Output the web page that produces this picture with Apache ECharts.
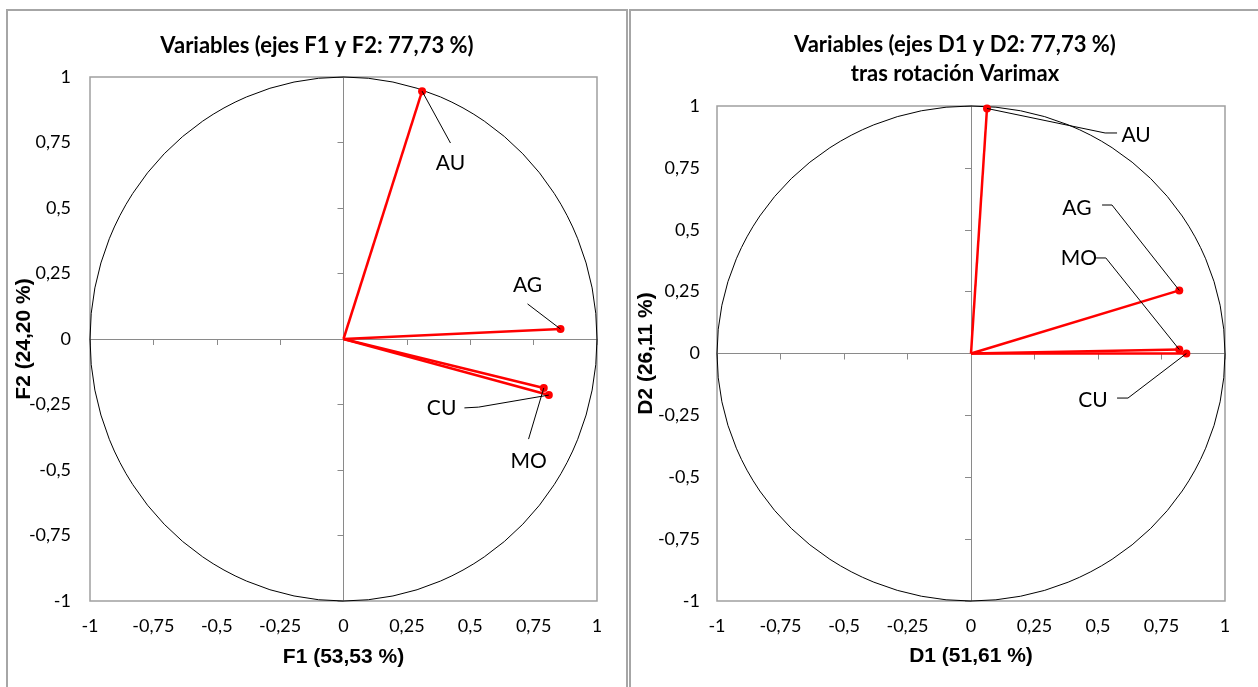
<!DOCTYPE html>
<html>
<head>
<meta charset="utf-8">
<script src="https://cdn.jsdelivr.net/npm/echarts@6/dist/echarts.min.js"></script>
<style>html,body{margin:0;padding:0;background:#fff}#c{width:1258px;height:687px}</style>
</head>
<body>
<div id="c"></div>
<script>
// ---- data ----
const variables = ['AU', 'AG', 'CU', 'MO'];
const f1 = [0.31, 0.856, 0.81, 0.79];
const f2 = [0.946, 0.038, -0.214, -0.187];
const d1 = [0.063, 0.82, 0.848, 0.82];
const d2 = [0.99, 0.255, 0.0, 0.016];
const tickValues = [-1, -0.75, -0.5, -0.25, 0, 0.25, 0.5, 0.75, 1];
const titleLeft = 'Variables (ejes F1 y F2: 77,73 %)';
const titleRight = ['Variables (ejes D1 y D2: 77,73 %)', 'tras rotación Varimax'];
const axisNamesLeft = ['F1 (53,53 %)', 'F2 (24,20 %)'];
const axisNamesRight = ['D1 (51,61 %)', 'D2 (26,11 %)'];

// ---- label layout (data coordinates of label centre and leader bends) ----
const labelLayoutLeft = {
  AU: {text: [0.422, 0.672], leader: [[0.422, 0.748]]},
  AG: {text: [0.726, 0.206], leader: [[0.726, 0.134]]},
  CU: {text: [0.387, -0.263], leader: [[0.477, -0.263], [0.533, -0.26]]},
  MO: {text: [0.730, -0.466], leader: [[0.730, -0.382]]}
};
const labelLayoutRight = {
  AU: {text: [0.65, 0.883], leader: [[0.575, 0.891], [0.528, 0.891]]},
  AG: {text: [0.417, 0.588], leader: [[0.516, 0.600], [0.555, 0.600]]},
  MO: {text: [0.425, 0.386], leader: [[0.492, 0.386], [0.531, 0.386]]},
  CU: {text: [0.480, -0.188], leader: [[0.575, -0.180], [0.618, -0.180]]}
};

const FONT = 'Lato, "Open Sans", sans-serif';
const ARIAL = '"Liberation Sans", Arial, sans-serif';
const fmt = v => String(v).replace('.', ',');

function labelX(gridIndex, gap, name) {
  return {
    gridIndex, type: 'value', min: -1, max: 1, interval: 0.25, position: 'bottom',
    axisLine: {show: false, onZero: false}, axisTick: {show: false}, splitLine: {show: false},
    axisLabel: {formatter: fmt, color: '#000', fontSize: 18, fontFamily: FONT, margin: 16},
    name, nameLocation: 'middle', nameGap: gap,
    nameTextStyle: {fontSize: 21, fontWeight: 'bold', fontFamily: ARIAL, color: '#000'}
  };
}
function zeroX(gridIndex) {
  return {
    gridIndex, type: 'value', min: -1, max: 1, interval: 0.25, position: 'bottom',
    axisLine: {show: true, onZero: true, lineStyle: {color: '#8a8a8a', width: 1}},
    axisTick: {show: true, inside: false, length: 6, lineStyle: {color: '#8a8a8a'}},
    axisLabel: {show: false}, splitLine: {show: false}
  };
}
function labelY(gridIndex, gap, margin, name) {
  return {
    gridIndex, type: 'value', min: -1, max: 1, interval: 0.25, position: 'left',
    axisLine: {show: false, onZero: false}, axisTick: {show: false}, splitLine: {show: false},
    axisLabel: {formatter: fmt, color: '#000', fontSize: 18, fontFamily: FONT, margin},
    name, nameLocation: 'middle', nameGap: gap, nameMoveOverlap: false,
    nameTextStyle: {fontSize: 21, fontWeight: 'bold', fontFamily: ARIAL, color: '#000'}
  };
}
function zeroY(gridIndex) {
  return {
    gridIndex, type: 'value', min: -1, max: 1, interval: 0.25, position: 'left',
    axisLine: {show: true, onZero: true, lineStyle: {color: '#8a8a8a', width: 1}},
    axisTick: {show: true, inside: false, length: 6, lineStyle: {color: '#8a8a8a'}},
    axisLabel: {show: false}, splitLine: {show: false}
  };
}

function circleSeries(xi, yi) {
  return {
    type: 'custom', xAxisIndex: xi, yAxisIndex: yi, data: [[0, 0, 1]], silent: true, z: 2,
    renderItem: (params, api) => {
      const r = api.value(2);
      const c = api.coord([api.value(0), api.value(1)]);
      const e = api.coord([r, r]);
      const rx = e[0] - c[0], ry = c[1] - e[1];
      const d = `M ${c[0] - rx} ${c[1]} A ${rx} ${ry} 0 1 0 ${c[0] + rx} ${c[1]} A ${rx} ${ry} 0 1 0 ${c[0] - rx} ${c[1]} Z`;
      return {type: 'path', shape: {pathData: d}, style: {fill: 'none', stroke: '#000', lineWidth: 1}};
    }
  };
}

function vectorSeries(xi, yi, xs, ys) {
  return {
    type: 'custom', xAxisIndex: xi, yAxisIndex: yi, z: 4,
    data: variables.map((n, i) => [xs[i], ys[i], n]),
    renderItem: (params, api) => {
      const o = api.coord([0, 0]);
      const p = api.coord([api.value(0), api.value(1)]);
      return {type: 'group', children: [
        {type: 'line', shape: {x1: o[0], y1: o[1], x2: p[0], y2: p[1]}, style: {stroke: '#ff0000', lineWidth: 2.5}},
        {type: 'circle', shape: {cx: p[0], cy: p[1], r: 4}, style: {fill: '#ff0000'}}
      ]};
    }
  };
}

function labelSeries(xi, yi, xs, ys, layout) {
  return {
    type: 'custom', xAxisIndex: xi, yAxisIndex: yi, z: 5,
    data: variables.map((n, i) => [xs[i], ys[i], n]),
    renderItem: (params, api) => {
      const name = variables[params.dataIndex];
      const L = layout[name];
      const p = api.coord([api.value(0), api.value(1)]);
      const pts = L.leader.map(q => api.coord(q));
      pts.push(p);
      const t = api.coord(L.text);
      return {type: 'group', children: [
        {type: 'polyline', shape: {points: pts}, style: {stroke: '#000', lineWidth: 1, fill: 'none'}},
        {type: 'text', x: t[0], y: t[1], style: {text: name, fontSize: 21, fontFamily: FONT, fill: '#000', align: 'center', verticalAlign: 'middle'}}
      ]};
    }
  };
}

const chart = echarts.init(document.getElementById('c'), null, {renderer: 'canvas'});
chart.setOption({
  backgroundColor: '#fff',
  animation: false,
  graphic: [
    {type: 'rect', shape: {x: 7, y: 10, width: 620, height: 700}, style: {fill: 'none', stroke: '#a6a6a6', lineWidth: 2}, z: 0},
    {type: 'rect', shape: {x: 630, y: 10, width: 640, height: 700}, style: {fill: 'none', stroke: '#a6a6a6', lineWidth: 2}, z: 0},
    {type: 'text', x: 317, y: 46, style: {text: titleLeft, fontSize: 22, fontWeight: 'bold', fontFamily: FONT, fill: '#000', align: 'center', verticalAlign: 'middle'}},
    {type: 'text', x: 955, y: 45, style: {text: titleRight[0], fontSize: 22, fontWeight: 'bold', fontFamily: FONT, fill: '#000', align: 'center', verticalAlign: 'middle'}},
    {type: 'text', x: 955, y: 74, style: {text: titleRight[1], fontSize: 22, fontWeight: 'bold', fontFamily: FONT, fill: '#000', align: 'center', verticalAlign: 'middle'}}
  ],
  grid: [
    {left: 90, top: 77, width: 507, height: 524, show: true, borderColor: '#a0a0a0', borderWidth: 1.5, backgroundColor: 'transparent'},
    {left: 717, top: 106, width: 508, height: 495, show: true, borderColor: '#a0a0a0', borderWidth: 1.5, backgroundColor: 'transparent'}
  ],
  xAxis: [labelX(0, 46, axisNamesLeft[0]), zeroX(0), labelX(1, 45, axisNamesRight[0]), zeroX(1)],
  yAxis: [labelY(0, 55, 19, axisNamesLeft[1]), zeroY(0), labelY(1, 60, 17, axisNamesRight[1]), zeroY(1)],
  series: [
    circleSeries(0, 0), vectorSeries(0, 0, f1, f2), labelSeries(0, 0, f1, f2, labelLayoutLeft),
    circleSeries(2, 2), vectorSeries(2, 2, d1, d2), labelSeries(2, 2, d1, d2, labelLayoutRight)
  ]
});
</script>
</body>
</html>
